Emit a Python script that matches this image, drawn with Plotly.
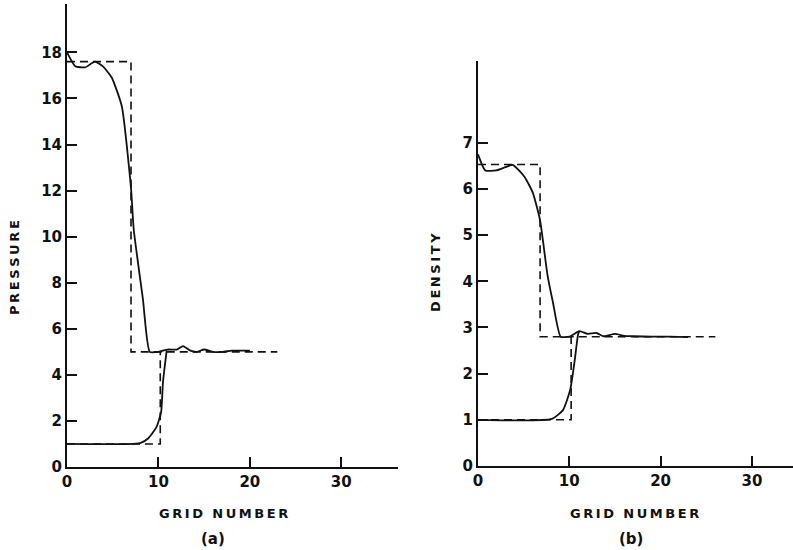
import plotly.graph_objects as go

W, H = 793, 550

# ---- data ----
# Pressure, panel (a)
p_exact_hi_x = [0, 7, 7, 23]
p_exact_hi_y = [17.6, 17.6, 5.0, 5.0]
p_exact_lo_x = [0, 10.2, 10.2]
p_exact_lo_y = [1.0, 1.0, 5.0]
p_calc_hi_x = [0, 0.9, 2.0, 3.05, 3.9, 4.9, 6.0, 7.0, 7.3, 8.3, 9.05, 10.0, 11.0, 12.0, 12.7, 13.5, 14.2, 15.0, 16.0, 17.0, 18.0, 19.0, 20.0]
p_calc_hi_y = [18.0, 17.4, 17.35, 17.6, 17.4, 16.9, 15.65, 12.1, 10.3, 7.3, 5.0, 5.0, 5.1, 5.1, 5.25, 5.05, 5.0, 5.1, 5.0, 5.0, 5.05, 5.05, 5.05]
p_calc_lo_x = [0, 8.0, 8.9, 9.8, 10.3, 10.5, 10.9]
p_calc_lo_y = [1.0, 1.04, 1.25, 1.74, 2.4, 3.7, 5.05]

# Density, panel (b)
d_exact_hi_x = [0, 6.8, 6.8, 26]
d_exact_hi_y = [6.53, 6.53, 2.8, 2.8]
d_exact_lo_x = [0, 10.2, 10.2]
d_exact_lo_y = [1.0, 1.0, 2.8]
d_calc_hi_x = [0, 0.8, 2.0, 3.0, 3.8, 5.1, 6.0, 6.8, 7.1, 7.6, 8.2, 9.05, 10.0, 11.1, 12.0, 13.0, 13.7, 15.0, 16.0, 17.0, 19.0, 21.0, 23.0]
d_calc_hi_y = [6.75, 6.4, 6.4, 6.47, 6.52, 6.26, 5.92, 5.32, 4.9, 4.15, 3.55, 2.8, 2.8, 2.92, 2.86, 2.88, 2.81, 2.86, 2.82, 2.81, 2.8, 2.8, 2.79]
d_calc_lo_x = [0, 8.1, 9.3, 10.1, 10.6, 10.95, 11.1]
d_calc_lo_y = [1.0, 1.02, 1.21, 1.65, 2.3, 2.84, 2.92]

x_ticks = [0, 10, 20, 30]
p_ticks = [0, 2, 4, 6, 8, 10, 12, 14, 16, 18]
d_ticks = [0, 1, 2, 3, 4, 5, 6, 7]

FONT = "DejaVu Sans"
BLACK = "#111111"

def px_x(p):
    return p / W

def px_y(p):
    return (H - p) / H

fig = go.Figure()

dash_style = dict(color=BLACK, width=1.6, dash="8px,5px")
solid_style = dict(color=BLACK, width=1.8, shape="spline", smoothing=0.5)

for xs, ys, st in [(p_exact_hi_x, p_exact_hi_y, dash_style),
                   (p_exact_lo_x, p_exact_lo_y, dash_style),
                   (p_calc_hi_x, p_calc_hi_y, solid_style),
                   (p_calc_lo_x, p_calc_lo_y, solid_style)]:
    fig.add_trace(go.Scatter(x=xs, y=ys, mode="lines", line=st,
                             xaxis="x", yaxis="y", showlegend=False, hoverinfo="skip"))

for xs, ys, st in [(d_exact_hi_x, d_exact_hi_y, dash_style),
                   (d_exact_lo_x, d_exact_lo_y, dash_style),
                   (d_calc_hi_x, d_calc_hi_y, solid_style),
                   (d_calc_lo_x, d_calc_lo_y, solid_style)]:
    fig.add_trace(go.Scatter(x=xs, y=ys, mode="lines", line=st,
                             xaxis="x2", yaxis="y2", showlegend=False, hoverinfo="skip"))

axis_common = dict(showline=True, linecolor=BLACK, linewidth=2, showgrid=False,
                   zeroline=False, ticks="inside", ticklen=10, tickwidth=2,
                   tickcolor=BLACK, tickmode="array", automargin=False,
                   tickfont=dict(family=FONT, size=15, color=BLACK, weight="bold"))

fig.update_layout(
    width=W, height=H,
    margin=dict(l=0, r=0, t=0, b=0, autoexpand=False),
    paper_bgcolor="white", plot_bgcolor="white",
    xaxis=dict(domain=[px_x(67), px_x(398)], range=[0, 36.2], tickvals=x_ticks,
               anchor="y", **axis_common),
    yaxis=dict(domain=[px_y(467), px_y(4)], range=[0, 20.1], tickvals=p_ticks,
               anchor="x", **axis_common),
    xaxis2=dict(domain=[px_x(478), 1.0], range=[0, 34.5], tickvals=x_ticks,
                anchor="y2", **axis_common),
    yaxis2=dict(domain=[px_y(466), px_y(61)], range=[0, 8.77], tickvals=d_ticks,
                anchor="x2", **axis_common),
)

def spaced(s):
    # wide lettering as in the original figure
    return "\u2009".join(s)

lab_font = dict(family=FONT, size=13, color=BLACK, weight="bold")
annots = [
    (spaced("PRESSURE"), 14, 268, -90, 13),
    (spaced("DENSITY"), 435, 273, -90, 13),
    (spaced("GRID") + "  " + spaced("NUMBER"), 223, 513, 0, 13),
    ("(a)", 213, 539, 0, 15),
    (spaced("GRID") + "  " + spaced("NUMBER"), 634, 513, 0, 13),
    ("(b)", 631, 539, 0, 15),
]
for text, x, y, ang, sz in annots:
    f = dict(lab_font)
    f["size"] = sz
    fig.add_annotation(text=text, x=px_x(x), y=px_y(y), xref="paper", yref="paper",
                       showarrow=False, textangle=ang, font=f,
                       xanchor="center", yanchor="middle")

fig.write_html("out.html",
               config={"displayModeBar": False},
               post_script="document.body.style.margin='0px';document.body.style.overflow='hidden';")
